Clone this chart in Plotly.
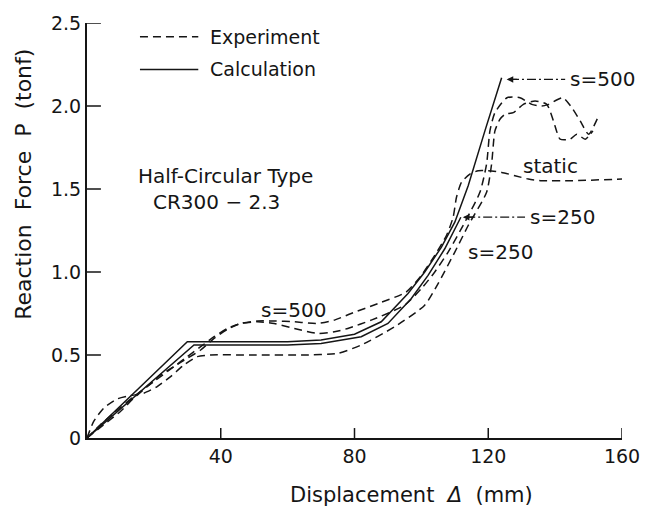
import plotly.graph_objects as go

# ---- Calculation curves (solid) ----
calc500_x = [0, 30, 40, 50, 60, 70, 80, 88, 96, 101, 106, 110, 114, 119, 124]
calc500_y = [0, 0.58, 0.58, 0.58, 0.58, 0.59, 0.625, 0.70, 0.87, 1.0, 1.15, 1.3, 1.52, 1.85, 2.17]

calc250_x = [0, 32, 40, 50, 60, 70, 82, 90, 97, 102, 107, 111.8]
calc250_y = [0, 0.56, 0.56, 0.56, 0.56, 0.57, 0.61, 0.69, 0.84, 0.98, 1.14, 1.33]

# ---- Experiment curves (dashed) ----
exp250_x = [0, 2, 5, 9, 13, 17, 21, 25, 29, 33, 37, 50, 65, 75, 82, 92, 101, 105, 110,
            114, 119.5, 121, 122, 123.5, 125, 127.5, 130.5, 134, 137.5, 139.5, 141.5,
            144.5, 146.5, 149, 151.3]
exp250_y = [0, 0.1, 0.18, 0.235, 0.255, 0.27, 0.31, 0.37, 0.44, 0.49, 0.5, 0.5, 0.5, 0.51,
            0.56, 0.67, 0.8, 0.93, 1.12, 1.28, 1.48, 1.65, 1.85, 1.92, 1.95, 1.96, 2.01,
            2.03, 2.01, 1.91, 1.80, 1.80, 1.83, 1.80, 1.85]

exp500_x = [0, 5, 10, 14, 18, 22, 26, 30, 34, 38, 42, 46, 51, 56, 62, 69, 74, 78, 85, 95,
            100, 104, 108, 113, 117.5, 119.5, 120.5, 122, 125.6, 129.5, 133, 136, 138,
            142.3, 145, 147.5, 150, 153]
exp500_y = [0, 0.08, 0.16, 0.24, 0.31, 0.38, 0.43, 0.48, 0.53, 0.6, 0.655, 0.69, 0.70,
            0.69, 0.66, 0.63, 0.64, 0.66, 0.71, 0.8, 0.9, 1.0, 1.12, 1.3, 1.48, 1.65,
            1.85, 1.96, 2.05, 2.05, 2.01, 2.0, 2.01, 2.05, 1.99, 1.91, 1.83, 1.94]

static_x = [0, 4, 8, 14, 20, 26, 30, 34, 38, 42, 46, 51, 56, 62, 69, 74, 79, 87, 95.5,
            100, 104, 107.5, 109.5, 110.5, 112, 114.5, 117, 120, 124, 128, 132, 136, 145, 160]
static_y = [0, 0.08, 0.15, 0.25, 0.34, 0.43, 0.49, 0.55, 0.61, 0.66, 0.69, 0.705, 0.705,
            0.70, 0.69, 0.71, 0.75, 0.81, 0.88, 0.98, 1.1, 1.22, 1.33, 1.45, 1.54, 1.59,
            1.61, 1.61, 1.6, 1.58, 1.56, 1.55, 1.55, 1.56]

# ---- Axis ticks ----
x_ticks = [40, 80, 120, 160]
y_ticks = [0, 0.5, 1.0, 1.5, 2.0, 2.5]
y_ticktext = ["0", "0.5", "1.0", "1.5", "2.0", "2.5"]

INK = "#151515"
FONT = "DejaVu Sans"
DASH = "8px,5px"
DASHDOT = "9px,3px,2px,3px"

fig = go.Figure()

for xs, ys in [(calc500_x, calc500_y), (calc250_x, calc250_y)]:
    fig.add_trace(go.Scatter(x=xs, y=ys, mode="lines",
                             line=dict(color=INK, width=1.5), showlegend=False,
                             hoverinfo="skip"))

for xs, ys in [(exp250_x, exp250_y), (exp500_x, exp500_y), (static_x, static_y)]:
    fig.add_trace(go.Scatter(x=xs, y=ys, mode="lines",
                             line=dict(color=INK, width=1.5, dash=DASH, shape="spline",
                                       smoothing=0.6),
                             showlegend=False, hoverinfo="skip"))

annotations = []
shapes = []


def pointer(tip_x, tip_y, tail_x, label):
    """Dash-dot leader with an arrowhead pointing at the end of a calculated curve."""
    fig.add_trace(go.Scatter(x=[tip_x + 1.0, tail_x], y=[tip_y, tip_y], mode="lines",
                             line=dict(color=INK, width=1.2, dash=DASHDOT),
                             showlegend=False, hoverinfo="skip"))
    annotations.append(dict(x=tip_x, y=tip_y, ax=tip_x + 3.5, ay=tip_y, axref="x", ayref="y",
                            xref="x", yref="y", showarrow=True, arrowhead=2, arrowsize=1.1,
                            arrowwidth=1.2, arrowcolor=INK, text=""))
    annotations.append(dict(x=tail_x + 0.8, y=tip_y, xref="x", yref="y", text=label,
                            showarrow=False, xanchor="left", yanchor="middle",
                            font=dict(family=FONT, size=20, color=INK)))


pointer(calc500_x[-1] + 1.5, calc500_y[-1] - 0.01, 143, "s=500")
pointer(calc250_x[-1] + 0.6, calc250_y[-1], 131, "s=250")


def label(x, y, text, size=20):
    annotations.append(dict(x=x, y=y, xref="x", yref="y", text=text, showarrow=False,
                            font=dict(family=FONT, size=size, color=INK)))


label(138.5, 1.64, "static")
label(123.6, 1.12, "s=250")
label(61.7, 0.77, "s=500")
label(41.5, 1.58, "Half-Circular Type", 20)
label(38.8, 1.42, "CR300 − 2.3", 20)

# legend drawn by hand: sample line + caption
legend_rows = [("Experiment", DASH, 0.967), ("Calculation", "solid", 0.888)]
for name, dash, yp in legend_rows:
    shapes.append(dict(type="line", xref="paper", yref="paper", x0=0.099, x1=0.208,
                       y0=yp, y1=yp, line=dict(color=INK, width=1.5, dash=dash)))
    annotations.append(dict(x=0.226, y=yp, xref="paper", yref="paper", text=name,
                            showarrow=False, xanchor="left", yanchor="middle",
                            font=dict(family=FONT, size=19, color=INK)))

# inward tick marks
for xv in x_ticks:
    shapes.append(dict(type="line", xref="x", yref="paper", x0=xv, x1=xv, y0=0, y1=0.024,
                       line=dict(color=INK, width=1.5)))
for yv in y_ticks[1:]:
    shapes.append(dict(type="line", xref="paper", yref="y", x0=0, x1=0.026, y0=yv, y1=yv,
                       line=dict(color=INK, width=1.5)))

# axis titles
annotations.append(dict(x=0.606, y=0, yshift=-57, xref="paper", yref="paper",
                        yanchor="middle", xanchor="center",
                        text="Displacement  <i>Δ</i>  (mm)", showarrow=False,
                        font=dict(family=FONT, size=21, color=INK)))
annotations.append(dict(x=0, xshift=-63, y=0.61, xref="paper", yref="paper",
                        xanchor="center", yanchor="middle",
                        text="Reaction  Force  P  (tonf)", textangle=-90, showarrow=False,
                        font=dict(family=FONT, size=22, color=INK)))

fig.update_layout(
    width=659, height=511,
    margin=dict(l=87, r=37, t=14, b=73),
    paper_bgcolor="white", plot_bgcolor="white",
    shapes=shapes, annotations=annotations,
    font=dict(family=FONT, size=18, color=INK),
    xaxis=dict(range=[0, 160], tickvals=x_ticks, ticks="", showline=True, linecolor=INK,
               linewidth=2, showgrid=False, zeroline=False,
               tickfont=dict(family=FONT, size=19, color=INK)),
    yaxis=dict(range=[0, 2.5], tickvals=y_ticks, ticktext=y_ticktext, ticks="",
               showline=True, linecolor=INK, linewidth=2, showgrid=False, zeroline=False,
               tickfont=dict(family=FONT, size=19, color=INK)),
)

fig.write_html("out.html")
